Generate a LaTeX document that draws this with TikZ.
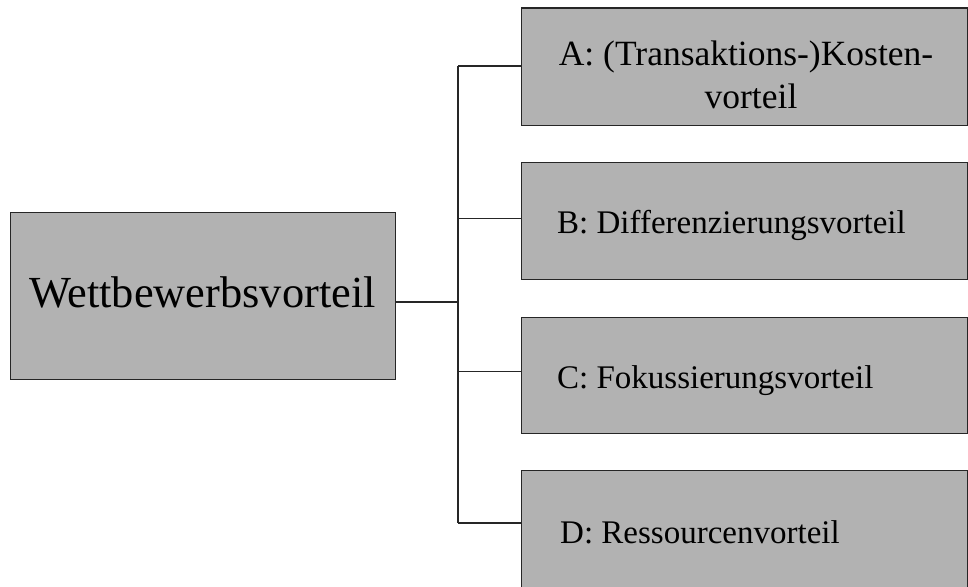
\documentclass[tikz,border=0pt]{standalone}
\usepackage{fontspec}
\setmainfont{Liberation Serif}
\begin{document}
\begin{tikzpicture}[x=1pt,y=-1pt,
  box/.style={draw=black!85, line width=1.1pt, fill=black!30, rectangle,
    anchor=north west, inner sep=0pt},
  sidebox/.style={box, minimum width=446pt},
  boxtext/.style={inner sep=0pt, font=\fontsize{33}{40}\selectfont, anchor=base west},
  link/.style={draw=black!85, line width=1.1pt}]
\useasboundingbox (0,0) rectangle (968,586);

% main concept
\node[box, minimum width=385pt, minimum height=167pt] (main) at (10,212) {};
\node[inner sep=0pt, anchor=base, font=\fontsize{44.4}{50}\selectfont] (maintext)
  at (202.5,307) {Wettbewerbsvorteil};

% four kinds of advantage
\node[sidebox, minimum height=117pt] (A) at (521,7.5) {};
\node[sidebox, minimum height=116.5pt] (B) at (521,162) {};
\node[sidebox, minimum height=116.5pt] (C) at (521,316.5) {};
\node[sidebox, minimum height=128pt] (D) at (521,470) {};

\node[boxtext, anchor=base, font=\fontsize{35.5}{40}\selectfont] (Atext1) at (746,65)
  {A: (Transaktions-)Kosten-};
\node[boxtext, anchor=base, font=\fontsize{35.5}{40}\selectfont] (Atext2) at (751,108)
  {vorteil};
\node[boxtext] (Btext) at (557,233) {B: Differenzierungsvorteil};
\node[boxtext] (Ctext) at (557,388) {C: Fokussierungsvorteil};
\node[boxtext] (Dtext) at (560,543) {D: Ressourcenvorteil};

% bracket connector
\coordinate (bustop) at (458,66);
\coordinate (busbot) at (458,523);
\coordinate (busmid) at (458,302);
\draw[link] (bustop) -- (busbot);
\draw[link] (main.east |- busmid) -- (busmid);
\draw[link] (bustop) -- (A.west |- bustop);
\draw[link] ([yshift=2pt]B.west) -- ([yshift=2pt]B.west -| bustop);
\draw[link] ([yshift=4pt]C.west) -- ([yshift=4pt]C.west -| bustop);
\draw[link] (busbot) -- (D.west |- busbot);
\end{tikzpicture}
\end{document}
